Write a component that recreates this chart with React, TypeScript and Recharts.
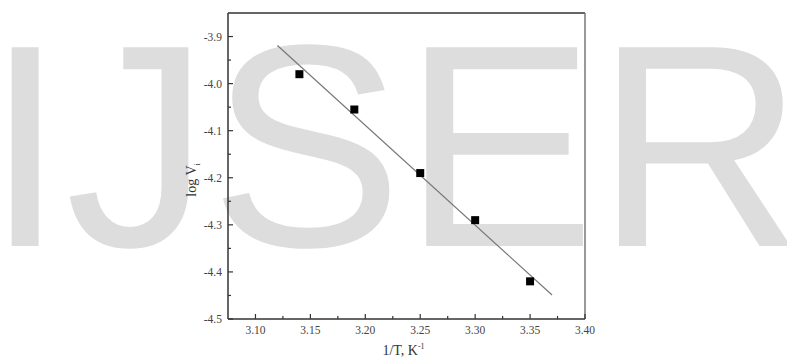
import React from 'react';
import { ComposedChart, Scatter, XAxis, YAxis, ReferenceLine } from 'recharts';

// Measured points: inverse temperature (1000/T) vs log of initial rate
const inverseTemperature = [3.14, 3.19, 3.25, 3.3, 3.35];
const logInitialRate = [-3.98, -4.055, -4.19, -4.29, -4.42];

// Least-squares fit line end points
const fitInverseTemperature = [3.12, 3.37];
const fitLogRate = [-3.919, -4.449];

// Axis ticks
const xMajorTicks = [3.1, 3.15, 3.2, 3.25, 3.3, 3.35, 3.4];
const xMinorTicks = [3.125, 3.175, 3.225, 3.275, 3.325, 3.375];
const yMajorTicks = [-3.9, -4.0, -4.1, -4.2, -4.3, -4.4, -4.5];
const yMinorTicks = [-3.95, -4.05, -4.15, -4.25, -4.35, -4.45];

const xDomain: [number, number] = [3.075, 3.4];
const yDomain: [number, number] = [-4.5, -3.85];

const points = inverseTemperature.map((x, i) => ({ x, y: logInitialRate[i] }));
const fit = fitInverseTemperature.map((x, i) => ({ x, y: fitLogRate[i] }));

const serif = '"Liberation Serif", "Times New Roman", serif';
const axisColor = '#333';

const isMajor = (list: number[], v: number) => list.some((t) => Math.abs(t - v) < 1e-6);

const XTick = (props: any) => {
  const { x, y, payload } = props;
  const v = payload.value as number;
  const major = isMajor(xMajorTicks, v);
  return (
    <g>
      <line x1={x} x2={x} y1={y} y2={y - (major ? 5 : 3)} stroke={axisColor} strokeWidth={1.2} />
      {major && (
        <text x={x} y={y + 15} textAnchor="middle" fontFamily={serif} fontSize={11.5} fill="#444">
          {v.toFixed(2)}
        </text>
      )}
    </g>
  );
};

const YTick = (props: any) => {
  const { x, y, payload } = props;
  const v = payload.value as number;
  const major = isMajor(yMajorTicks, v);
  return (
    <g>
      <line x1={x} x2={x + (major ? 5 : 3)} y1={y} y2={y} stroke={axisColor} strokeWidth={1.2} />
      {major && (
        <text x={x - 6} y={y + 4} textAnchor="end" fontFamily={serif} fontSize={11.5} fill="#444">
          {v.toFixed(1)}
        </text>
      )}
    </g>
  );
};

const YTitle = (props: any) => {
  const { viewBox } = props;
  const cx = viewBox.x + 28;
  const cy = viewBox.y + viewBox.height / 2 + 14;
  return (
    <text
      x={cx}
      y={cy}
      transform={`rotate(-90, ${cx}, ${cy})`}
      textAnchor="middle"
      fontFamily={serif}
      fontSize={14}
      fill="#333"
    >
      log V
      <tspan fontSize={8} dy={4}>i</tspan>
    </text>
  );
};

const XTitle = (props: any) => {
  const { viewBox } = props;
  const cx = viewBox.x + viewBox.width / 2 - 3;
  const cy = viewBox.y + 36;
  return (
    <text x={cx} y={cy} textAnchor="middle" fontFamily={serif} fontSize={14} fill="#333">
      1/T, K
      <tspan fontSize={8} dy={-6}>-1</tspan>
    </text>
  );
};

const NoDot = () => <g />;

export default function App() {
  return (
    <div style={{ position: 'absolute', left: 0, top: 0, width: 787, height: 360, background: '#fff' }}>
      <svg width={787} height={360} style={{ position: 'absolute', left: 0, top: 0 }}>
        <text x={-15} y={246} fontFamily='"Liberation Sans", Arial, sans-serif' fontSize={289} fill="#dddddd">
          IJSER
        </text>
      </svg>
      <div style={{ position: 'absolute', left: 0, top: 0 }}>
        <ComposedChart width={787} height={360} margin={{ top: 13, right: 202, bottom: 11, left: 168 }}>
          <XAxis
            type="number"
            dataKey="x"
            domain={xDomain}
            ticks={[...xMajorTicks, ...xMinorTicks]}
            interval={0}
            allowDataOverflow
            height={30}
            tickSize={0}
            tickMargin={0}
            tickLine={false}
            tick={XTick}
            axisLine={{ stroke: axisColor, strokeWidth: 1.5 }}
            label={<XTitle />}
          />
          <YAxis
            type="number"
            dataKey="y"
            domain={yDomain}
            ticks={[...yMajorTicks, ...yMinorTicks]}
            interval={0}
            allowDataOverflow
            width={60}
            tickSize={0}
            tickMargin={0}
            tickLine={false}
            tick={YTick}
            axisLine={{ stroke: axisColor, strokeWidth: 1.5 }}
            label={<YTitle />}
          />
          {/* frame: top and right edges of the plot box */}
          <ReferenceLine y={yDomain[1]} stroke={axisColor} strokeWidth={1.5} ifOverflow="visible" />
          <ReferenceLine x={xDomain[1]} stroke="#777" strokeWidth={1.5} ifOverflow="visible" />
          <Scatter
            data={fit}
            dataKey="y"
            line={{ stroke: '#777', strokeWidth: 1.2 }}
            shape={NoDot}
            isAnimationActive={false}
          />
          <Scatter
            data={points}
            dataKey="y"
            shape="square"
            size={40}
            fill="#000"
            isAnimationActive={false}
          />
        </ComposedChart>
      </div>
    </div>
  );
}
